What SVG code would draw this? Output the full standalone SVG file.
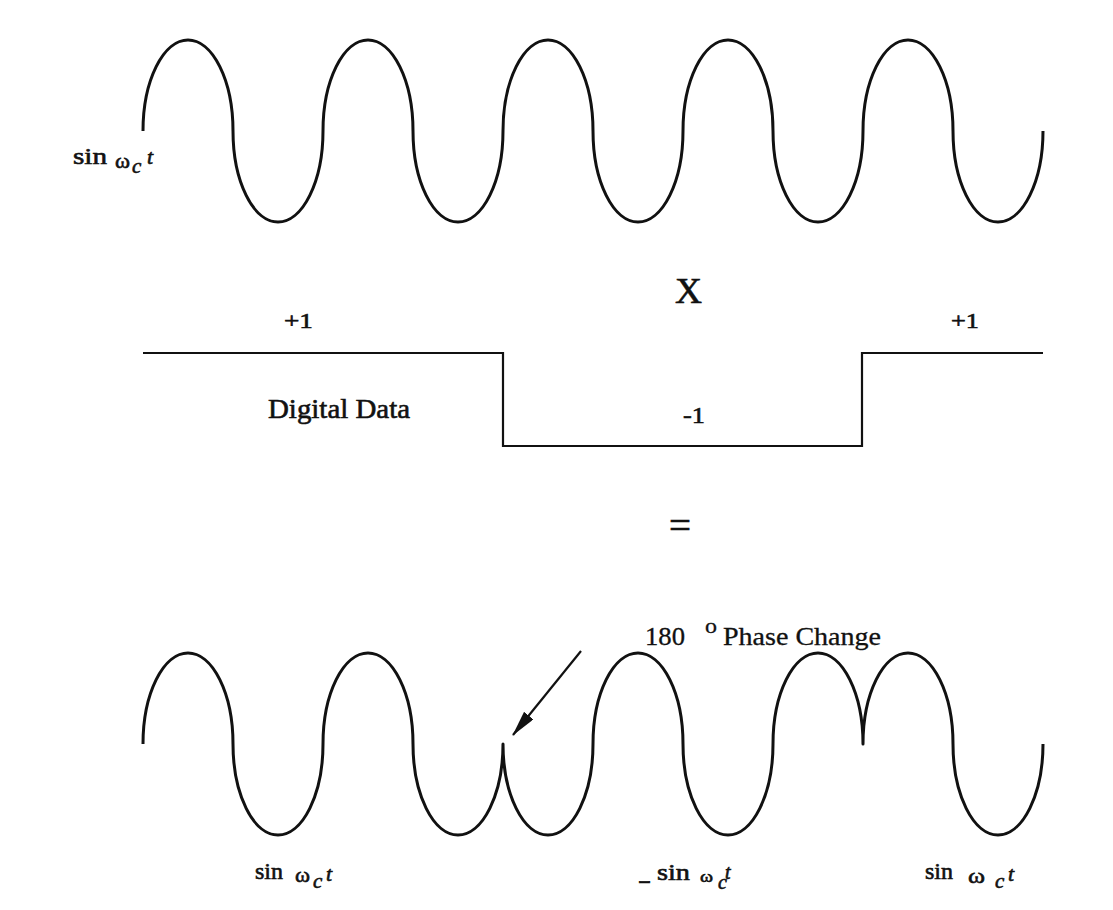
<svg xmlns="http://www.w3.org/2000/svg" width="1113" height="910" viewBox="0 0 1113 910">
<style>
.wave{fill:none;stroke:#111;stroke-width:3;stroke-linejoin:round}
.step{fill:none;stroke:#111;stroke-width:2.2}
text{font-family:'Liberation Serif',serif;fill:#111;stroke:#111;stroke-width:0.6}
.it{font-style:italic}
.thin{stroke-width:0.3}
.arrow{stroke:#111;stroke-width:2.2;fill:none}
</style>
<defs>
<marker id="ah" markerUnits="userSpaceOnUse" viewBox="0 0 26 12" refX="25" refY="6" markerWidth="26" markerHeight="12" orient="auto">
<path d="M0,0 L26,6 L0,12 z" fill="#111"/>
</marker>
</defs>
<rect width="1113" height="910" fill="#fff"/>

<g id="carrier">
<path class="wave" d="M143,131 A45,91 0 0 1 233,131 A45,91 0 0 0 323,131 A45,91 0 0 1 413,131 A45,91 0 0 0 503,131 A45,91 0 0 1 593,131 A45,91 0 0 0 683,131 A45,91 0 0 1 773,131 A45,91 0 0 0 863,131 A45,91 0 0 1 953,131 A45,91 0 0 0 1043,131"/>
<text x="73" y="164" font-size="23" textLength="34" lengthAdjust="spacingAndGlyphs">sin</text>
<text x="115" y="168" font-size="22" textLength="15" lengthAdjust="spacingAndGlyphs">ω</text>
<text class="it" x="132" y="173" font-size="21">c</text>
<text class="it" x="147" y="164" font-size="22">t</text>
</g>

<g id="multiply">
<text x="675" y="303" font-size="35" textLength="27" lengthAdjust="spacingAndGlyphs">X</text>
</g>

<g id="data">
<path class="step" d="M143,353 H503 V446 H862 V353 H1043"/>
<text x="284" y="328" font-size="22" textLength="29" lengthAdjust="spacingAndGlyphs">+1</text>
<text x="951" y="328" font-size="22" textLength="28" lengthAdjust="spacingAndGlyphs">+1</text>
<text x="268" y="418" font-size="28" textLength="142" lengthAdjust="spacingAndGlyphs">Digital Data</text>
<text x="683" y="423" font-size="24" textLength="22" lengthAdjust="spacingAndGlyphs">-1</text>
</g>

<g id="equals">
<text x="669" y="538" font-size="38" textLength="22" lengthAdjust="spacingAndGlyphs">=</text>
</g>

<g id="result">
<path class="wave" d="M143,744 A45,91 0 0 1 233,744 A45,91 0 0 0 323,744 A45,91 0 0 1 413,744 A45,91 0 0 0 503,744 A45,91 0 0 0 593,744 A45,91 0 0 1 683,744 A45,91 0 0 0 773,744 A45,91 0 0 1 863,744 A45,91 0 0 1 953,744 A45,91 0 0 0 1043,744"/>
<text x="255" y="879" font-size="23" textLength="28" lengthAdjust="spacingAndGlyphs">sin</text>
<text x="295" y="882" font-size="22" textLength="15" lengthAdjust="spacingAndGlyphs">ω</text>
<text class="it" x="313" y="888" font-size="21">c</text>
<text class="it" x="326" y="881" font-size="22">t</text>

<text x="638" y="887" font-size="22" textLength="13" lengthAdjust="spacingAndGlyphs">-</text>
<text x="657" y="880" font-size="23" textLength="33" lengthAdjust="spacingAndGlyphs">sin</text>
<text x="700" y="882" font-size="17" textLength="13" lengthAdjust="spacingAndGlyphs">ω</text>
<text class="it" x="718" y="889" font-size="20">c</text>
<text class="it" x="725" y="879" font-size="20">t</text>

<text x="925" y="879" font-size="23" textLength="28" lengthAdjust="spacingAndGlyphs">sin</text>
<text x="968" y="883" font-size="22" textLength="17" lengthAdjust="spacingAndGlyphs">ω</text>
<text class="it" x="995" y="888" font-size="21">c</text>
<text class="it" x="1008" y="881" font-size="22">t</text>
</g>

<g id="phase-label">
<text class="thin" x="645" y="645" font-size="25" textLength="40" lengthAdjust="spacingAndGlyphs">180</text>
<text class="thin" x="705" y="633" font-size="22" textLength="12" lengthAdjust="spacingAndGlyphs">o</text>
<text class="thin" x="723" y="645" font-size="25" textLength="158" lengthAdjust="spacingAndGlyphs">Phase Change</text>
</g>

<g id="connectors">
<line class="arrow" x1="581" y1="651" x2="513" y2="735" marker-end="url(#ah)"/>
</g>
</svg>
